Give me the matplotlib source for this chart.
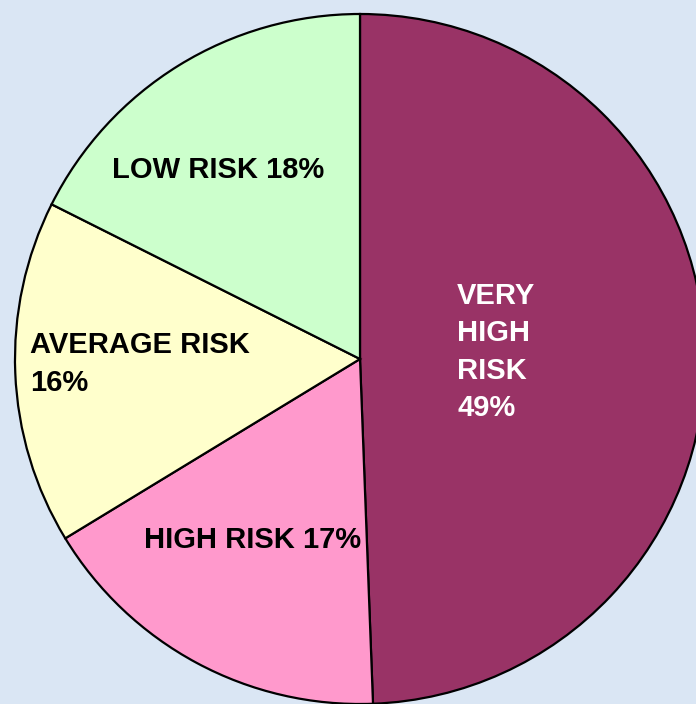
import matplotlib.pyplot as plt

labels = ["VERY\nHIGH\nRISK\n49%", "HIGH RISK 17%", "AVERAGE RISK\n16%", "LOW RISK 18%"]
# slice sizes as drawn (labels show the rounded figures)
shares = [49.4, 16.9, 16.1, 17.6]
colors = ["#993366", "#FF99CC", "#FFFFCC", "#CCFFCC"]
text_colors = ["white", "black", "black", "black"]

W, H = 696, 704
fig = plt.figure(figsize=(W / 100, H / 100), dpi=100)
fig.patch.set_facecolor("#dae6f4")
ax = fig.add_axes([0, 0, 1, 1])

cx, cy, r = 360, H - 359, 345
ax.pie(shares, colors=colors, startangle=90, counterclock=False,
       center=(cx, cy), radius=r, frame=True,
       wedgeprops=dict(edgecolor="black", linewidth=1.6))
ax.set_xlim(0, W)
ax.set_ylim(0, H)
ax.set_aspect("equal")
ax.axis("off")

# label anchors in pixel space (x, y from top), alignment
spots = [(457, 352, "left"), (253, 540, "center"), (30, 364, "left"), (218, 170, "center")]
for lab, tc, (x, y, ha) in zip(labels, text_colors, spots):
    ax.text(x, H - y, lab, ha=ha, va="center", color=tc, fontsize=21,
            fontweight="bold", family=["Liberation Sans", "DejaVu Sans"],
            linespacing=1.42, multialignment="left")

fig.savefig("out.png", dpi=100, facecolor=fig.get_facecolor())
